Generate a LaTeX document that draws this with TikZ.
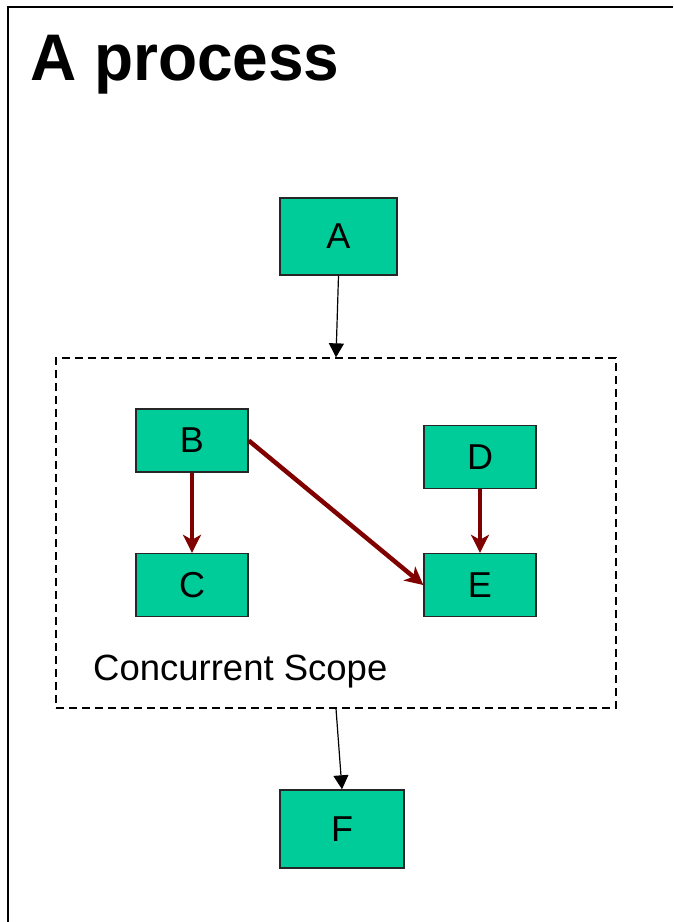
\documentclass[tikz,border=0pt]{standalone}
\usepackage{fontspec}
\setmainfont{Liberation Sans}
\usetikzlibrary{arrows.meta}
\definecolor{taskgreen}{RGB}{0,204,153}
\definecolor{flowred}{RGB}{128,0,0}

\begin{document}
\begin{tikzpicture}[x=1pt, y=-1pt,
    task/.style={draw=black!85, line width=1.4pt, fill=taskgreen, minimum width=112pt, minimum height=63pt, inner sep=0pt, font=\fontsize{36}{40}\selectfont},
    flow/.style={-{Stealth[length=18pt, width=18pt, inset=5pt]}, draw=flowred, line width=4.5pt},
    link/.style={-{Triangle[length=14pt, width=15pt]}, line width=1.2pt}]
    \useasboundingbox (0,0) rectangle (673,922);

    % Frame
    \draw[line width=2pt] (8,922) -- (8,7) -- (673,7);
    \node[anchor=base west, inner sep=0pt, yscale=1.03, font=\bfseries\fontsize{64}{70}\selectfont] (title) at (30,80) {A process};

    % Outer tasks
    \node[task, minimum width=117pt, minimum height=77pt] (A) at (338.5,236.5) {A};
    \node[task, minimum width=124pt, minimum height=78pt] (F) at (342,829) {F};

    % Concurrent scope
    \node[draw, dash pattern=on 8pt off 5pt, line width=1.3pt, minimum width=560pt, minimum height=350pt] (scope) at (336,533) {};
    \node[anchor=base west, inner sep=0pt, font=\fontsize{36.5}{40}\selectfont] (scopelabel) at (93,680) {Concurrent Scope};

    % Inner tasks
    \node[task] (B) at (192,440.5) {B};
    \node[task] (C) at (192,585) {C};
    \node[task] (D) at (480,457) {D};
    \node[task] (E) at (480,585) {E};

    % Flow into and out of the scope
    \draw[link] (A.south) -- (scope.north);
    \draw[link] (scope.south) -- (F.north);

    % Dependencies inside the scope
    \draw[flow] (B.south) -- (C.north);
    \draw[flow] (B.east) -- (E.west);
    \draw[flow] (D.south) -- (E.north);
\end{tikzpicture}
\end{document}
